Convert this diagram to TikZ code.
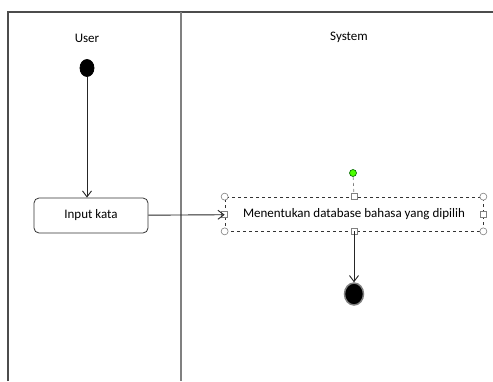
\documentclass[tikz,border=0pt]{standalone}
\usepackage{fontspec}
\setmainfont{Carlito}
\usepackage{tikz}
\usetikzlibrary{arrows.meta,positioning,shapes.geometric}
\begin{document}
\begin{tikzpicture}[x=1pt,y=-1pt,thick,
  lane/.style={draw=gray!60!black,line width=1.2pt},
  act/.style={draw=black!80,rounded corners=5pt,minimum width=114pt,minimum height=35pt,font=\fontsize{13}{15}\selectfont,inner sep=0pt},
  sel/.style={draw=black!80,dashed,line width=0.7pt,minimum width=258pt,minimum height=34pt,font=\fontsize{13}{15}\selectfont,inner sep=0pt},
  flow/.style={-{Straight Barb[length=6pt,width=9pt]},draw=black!85,line width=0.9pt},
  hcirc/.style={draw=gray,fill=white,line width=0.6pt,circle,inner sep=0pt,minimum size=7pt},
  hsq/.style={draw=gray,fill=white,line width=0.6pt,rectangle,inner sep=0pt,minimum size=6pt}]
\useasboundingbox (0,0) rectangle (493,381);
%%%%% Swimlanes %%%%%
\draw[lane] (8,381)--(8,12)--(493,12);
\draw[lane,draw=gray] (181,12)--(181,381);
\node[font=\fontsize{13}{15}\selectfont] (user) at (87,38) {User};
\node[font=\fontsize{13}{15}\selectfont] (system) at (349,37) {System};
%%%%% Nodes %%%%%
\node[draw=black,fill=black,ellipse,minimum width=14pt,minimum height=17pt,inner sep=0pt] (start) at (87,68) {};
\node[act] (input) at (91,215.5) {Input kata};
\node[sel] (db) at (354,214) {Menentukan database bahasa yang dipilih};
\node[draw=gray,line width=1.5pt,fill=black,ellipse,minimum width=19pt,minimum height=22pt,inner sep=0pt] (end) at (354,294) {};
%%%%% Handles %%%%%
\node[hcirc,fill=green!60!lime,draw=green!40!black,minimum size=7pt] (rot) at (353,173) {};
\draw[dashed,draw=gray,line width=0.6pt] (rot)--(db.north);
\foreach \a in {north west,north east,south west,south east}{
\node[hcirc] at (db.\a) {};
}
\foreach \a in {north,south,east,west}{
\node[hsq] at (db.\a) {};
}
%%%%% Flows %%%%%
\draw[flow] (start)--(start |- input.north);
\draw[flow] (input)--(db);
\draw[flow] (db)--(end);
\end{tikzpicture}
\end{document}
